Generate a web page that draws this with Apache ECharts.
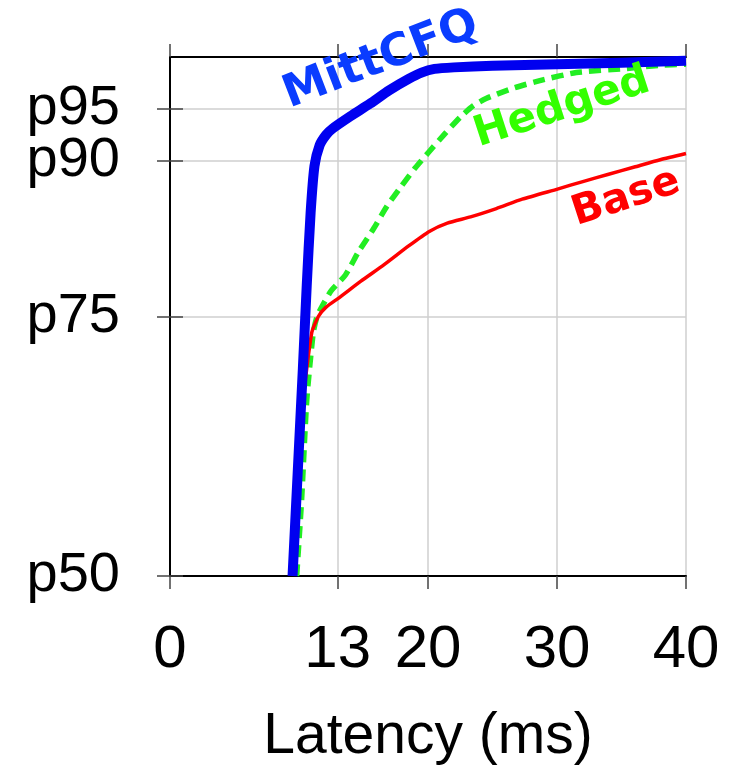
<!DOCTYPE html>
<html>
<head>
<meta charset="utf-8">
<script src="https://cdn.jsdelivr.net/npm/echarts@6/dist/echarts.min.js"></script>
<style>
  html, body { margin: 0; padding: 0; background: #fff; }
  #chart { width: 731px; height: 774px; }
</style>
</head>
<body>
<div id="chart"></div>
<script>
// Latency CDF: percentile reached at each latency (ms)
const xTicks = [0, 13, 20, 30, 40];
const yTicks = [50, 75, 90, 95];
// p95 sits close to p90, so its label lives on its own axis to keep both visible
const yLabelsMain = [50, 75, 90];
const yLabelsUpper = [95];

const mittLatency = [9.5, 9.9, 10.3, 10.6, 10.9, 11.2, 11.6, 12.1, 12.6, 14.0, 15.5, 17.0, 18.5, 19.5, 20.5, 22, 25, 30, 35, 40];
const mittPct     = [50, 60, 70, 78, 85, 89.5, 91.5, 92.5, 93.1, 94.3, 95.5, 96.8, 97.9, 98.5, 98.85, 99.0, 99.15, 99.3, 99.45, 99.65];

const hedgedLatency = [9.82, 10.2, 10.6, 11.1, 11.4, 11.8, 12.5, 13.6, 14.6, 15.8, 16.8, 17.9, 19.0, 20.1, 21.3, 22.5, 23.5, 24.5, 26.6, 28.9, 31.5, 35.4, 38, 40];
const hedgedPct     = [50, 57.3, 66.9, 73.4, 75.0, 76.0, 77.5, 79.0, 81.2, 83.5, 85.6, 87.5, 89.3, 90.9, 92.6, 94.2, 95.3, 96.0, 97.0, 97.8, 98.5, 98.9, 99.2, 99.3];

const baseLatency = [9.7, 9.95, 10.33, 10.98, 11.5, 12.1, 13.1, 14.8, 16.6, 18.5, 20.1, 21.5, 23.3, 25.3, 27.3, 30.1, 32, 34, 36, 38, 40];
const basePct     = [50, 57.3, 66.9, 73.4, 75.0, 75.9, 76.8, 78.4, 80.0, 81.8, 83.2, 84.0, 84.6, 85.4, 86.3, 87.3, 88.0, 88.7, 89.4, 90.1, 90.7];

const pairs = (xs, ys) => xs.map((x, i) => [x, ys[i]]);

const tickStyle = { show: true, inside: false, length: 13, lineStyle: { color: '#444', width: 1.5 } };
const borderLine = { show: true, lineStyle: { color: '#000', width: 2 } };
const gridLine = { show: true, lineStyle: { color: '#cfcfcf', width: 1.5 } };
const tickFont = 'Liberation Sans';
const tagFont = '"DejaVu Sans"';

const yLabelStyle = {
  hideOverlap: false, margin: 50, fontFamily: tickFont, fontSize: 56, color: '#000',
  formatter: v => 'p' + v
};

const chart = echarts.init(document.getElementById('chart'), null, { renderer: 'canvas' });

chart.setOption({
  animation: false,
  backgroundColor: '#fff',
  grid: { left: 170, right: 45, top: 57, bottom: 198, containLabel: false },
  xAxis: [
    {
      type: 'value', position: 'bottom', min: 0, max: 40,
      name: 'Latency (ms)', nameLocation: 'middle', nameGap: 133,
      nameTextStyle: { fontFamily: tickFont, fontSize: 57, color: '#000' },
      axisLine: borderLine,
      axisTick: Object.assign({ customValues: xTicks }, tickStyle),
      axisLabel: { customValues: xTicks, hideOverlap: false, margin: 44, fontFamily: tickFont, fontSize: 60, color: '#000' },
      splitLine: gridLine
    },
    {
      type: 'value', position: 'top', min: 0, max: 40,
      axisLine: borderLine,
      axisTick: Object.assign({ customValues: xTicks }, tickStyle),
      axisLabel: { show: false },
      splitLine: { show: false }
    }
  ],
  yAxis: [
    {
      type: 'value', position: 'left', min: 50, max: 100,
      axisLine: borderLine,
      axisTick: Object.assign({ customValues: yTicks }, tickStyle),
      axisLabel: Object.assign({ customValues: yLabelsMain }, yLabelStyle),
      splitLine: gridLine
    },
    {
      type: 'value', position: 'right', min: 50, max: 100,
      axisLine: borderLine,
      axisTick: Object.assign({ customValues: yTicks }, tickStyle),
      axisLabel: { show: false },
      splitLine: { show: false }
    },
    {
      type: 'value', position: 'left', offset: 0, min: 50, max: 100,
      axisLine: { show: false },
      axisTick: { show: false },
      axisLabel: Object.assign({ customValues: yLabelsUpper }, yLabelStyle),
      splitLine: { show: false }
    }
  ],
  series: [
    {
      name: 'Hedged', type: 'line', data: pairs(hedgedLatency, hedgedPct),
      showSymbol: false, smooth: 0.2, z: 3,
      lineStyle: { color: '#22ee22', width: 5.5, type: [12, 7], cap: 'butt', join: 'round' }
    },
    {
      name: 'Base', type: 'line', data: pairs(baseLatency, basePct),
      showSymbol: false, smooth: 0.2, z: 4,
      lineStyle: { color: '#ff0000', width: 3.5, join: 'round' }
    },
    {
      name: 'MittCFQ', type: 'line', data: pairs(mittLatency, mittPct),
      showSymbol: false, smooth: 0.2, z: 5,
      lineStyle: { color: '#0000f0', width: 10, join: 'round' }
    }
  ],
  graphic: [
    {
      type: 'text', x: 381, y: 60, rotation: 21 * Math.PI / 180, z: 100,
      style: { text: 'MittCFQ', fill: '#0a3cff', font: 'bold 45px ' + tagFont, textAlign: 'center', textVerticalAlign: 'middle' }
    },
    {
      type: 'text', x: 562, y: 108, rotation: 18 * Math.PI / 180, z: 100,
      style: { text: 'Hedged', fill: '#33ff00', font: 'bold 42px ' + tagFont, textAlign: 'center', textVerticalAlign: 'middle' }
    },
    {
      type: 'text', x: 626, y: 198, rotation: 18 * Math.PI / 180, z: 100,
      style: { text: 'Base', fill: '#ff0000', font: 'bold 41px ' + tagFont, textAlign: 'center', textVerticalAlign: 'middle' }
    }
  ]
});
</script>
</body>
</html>
